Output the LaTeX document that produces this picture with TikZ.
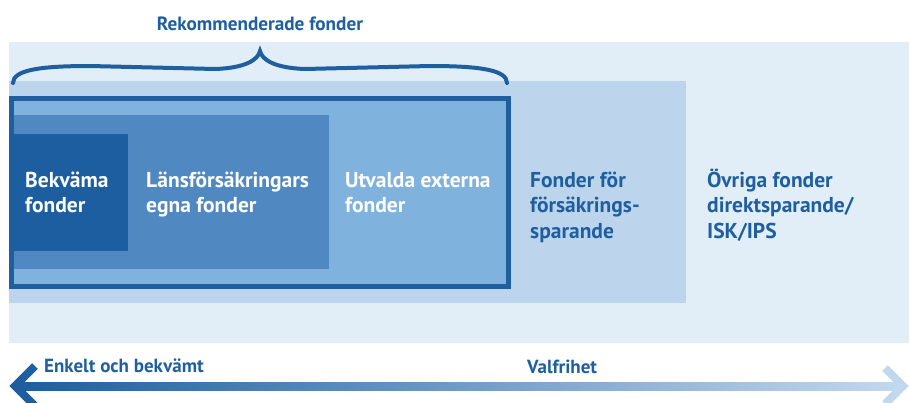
\documentclass[tikz,border=0pt]{standalone}
\usepackage{fontspec}
\setmainfont{PT Sans}
\usetikzlibrary{positioning}

\definecolor{ljus}{HTML}{E1EDF7}
\definecolor{mellan}{HTML}{BCD5ED}
\definecolor{klar}{HTML}{7FB2DC}
\definecolor{medel}{HTML}{5089C1}
\definecolor{mork}{HTML}{1C5E9F}
\definecolor{lfbla}{HTML}{1F5FA0}
\definecolor{ljusbla}{HTML}{C2D8EF}

\tikzset{
	panel/.style={anchor=north west, inner sep=0pt, outer sep=0pt},
	fondtext/.style={anchor=base west, inner sep=0pt, align=left,
		font=\bfseries\fontsize{21.5}{25.5}\selectfont},
	axeltext/.style={anchor=base west, inner sep=0pt, text=lfbla,
		font=\bfseries\fontsize{19}{22}\selectfont}
}

\begin{document}
\begin{tikzpicture}[x=1pt, y=-1pt]
	\useasboundingbox (0,0) rectangle (909,402);
	% boxes
	\node[panel, fill=ljus, minimum width=900, minimum height=301] (alla) at (9,42) {};
	\node[panel, fill=mellan, minimum width=677, minimum height=222] (forsakring) at (9,81) {};
	\node[panel, fill=klar, draw=lfbla, line width=5pt, minimum width=497, minimum height=188] (rekommenderade) at (11.5,98.5) {};
	\node[panel, fill=medel, minimum width=315, minimum height=154] (egna) at (14,115) {};
	\node[panel, fill=mork, minimum width=114, minimum height=117] (bekvama) at (14,134) {};
	% texts (base = last line)
	\node[fondtext, text=white] (tbekvama) at (25,212.5) {Bekväma\\fonder};
	\node[fondtext, text=white] (tegna) at (146,212.5) {Länsförsäkringars\\egna fonder};
	\node[fondtext, text=white] (textern) at (345,212.5) {Utvalda externa\\fonder};
	\node[fondtext, text=lfbla] (tforsakring) at (530,238) {Fonder för\\försäkrings-\\sparande};
	\node[fondtext, text=lfbla] (tovriga) at (707,238) {Övriga fonder\\direktsparande/\\ISK/IPS};
	% brace
	\node[anchor=base, inner sep=0pt, text=lfbla, font=\bfseries\fontsize{19.2}{22}\selectfont] (rubrik) at (260,30) {Rekommenderade fonder};
	\coordinate (bv) at (13,83);
	\coordinate (bh) at (507,83);
	\coordinate (spets) at (260,51);
	\draw[lfbla, line width=4pt, line cap=round]
		(bv) .. controls (13,70) and (40,66) .. (90,66) -- (215,69)
		.. controls (245,68) and (258,60) .. (spets)
		.. controls (262,60) and (275,68) .. (305,69) -- (430,66)
		.. controls (480,66) and (507,70) .. (bh);
	% arrow
	\coordinate (enkel) at (15,386);
	\coordinate (valfri) at (903,386);
	\shade[left color=mork, right color=ljusbla] (20,382) rectangle (898,390);
	\draw[mork, line width=8pt] ([shift={(20,-20)}]enkel) -- (enkel) -- ([shift={(20,20)}]enkel);
	\draw[ljusbla, line width=8pt] ([shift={(-18,-18)}]valfri) -- (valfri) -- ([shift={(-18,18)}]valfri);
	\node[axeltext] (tenkel) at (44,372) {Enkelt och bekvämt};
	\node[axeltext] (tvalfri) at (527,373) {Valfrihet};
\end{tikzpicture}
\end{document}
